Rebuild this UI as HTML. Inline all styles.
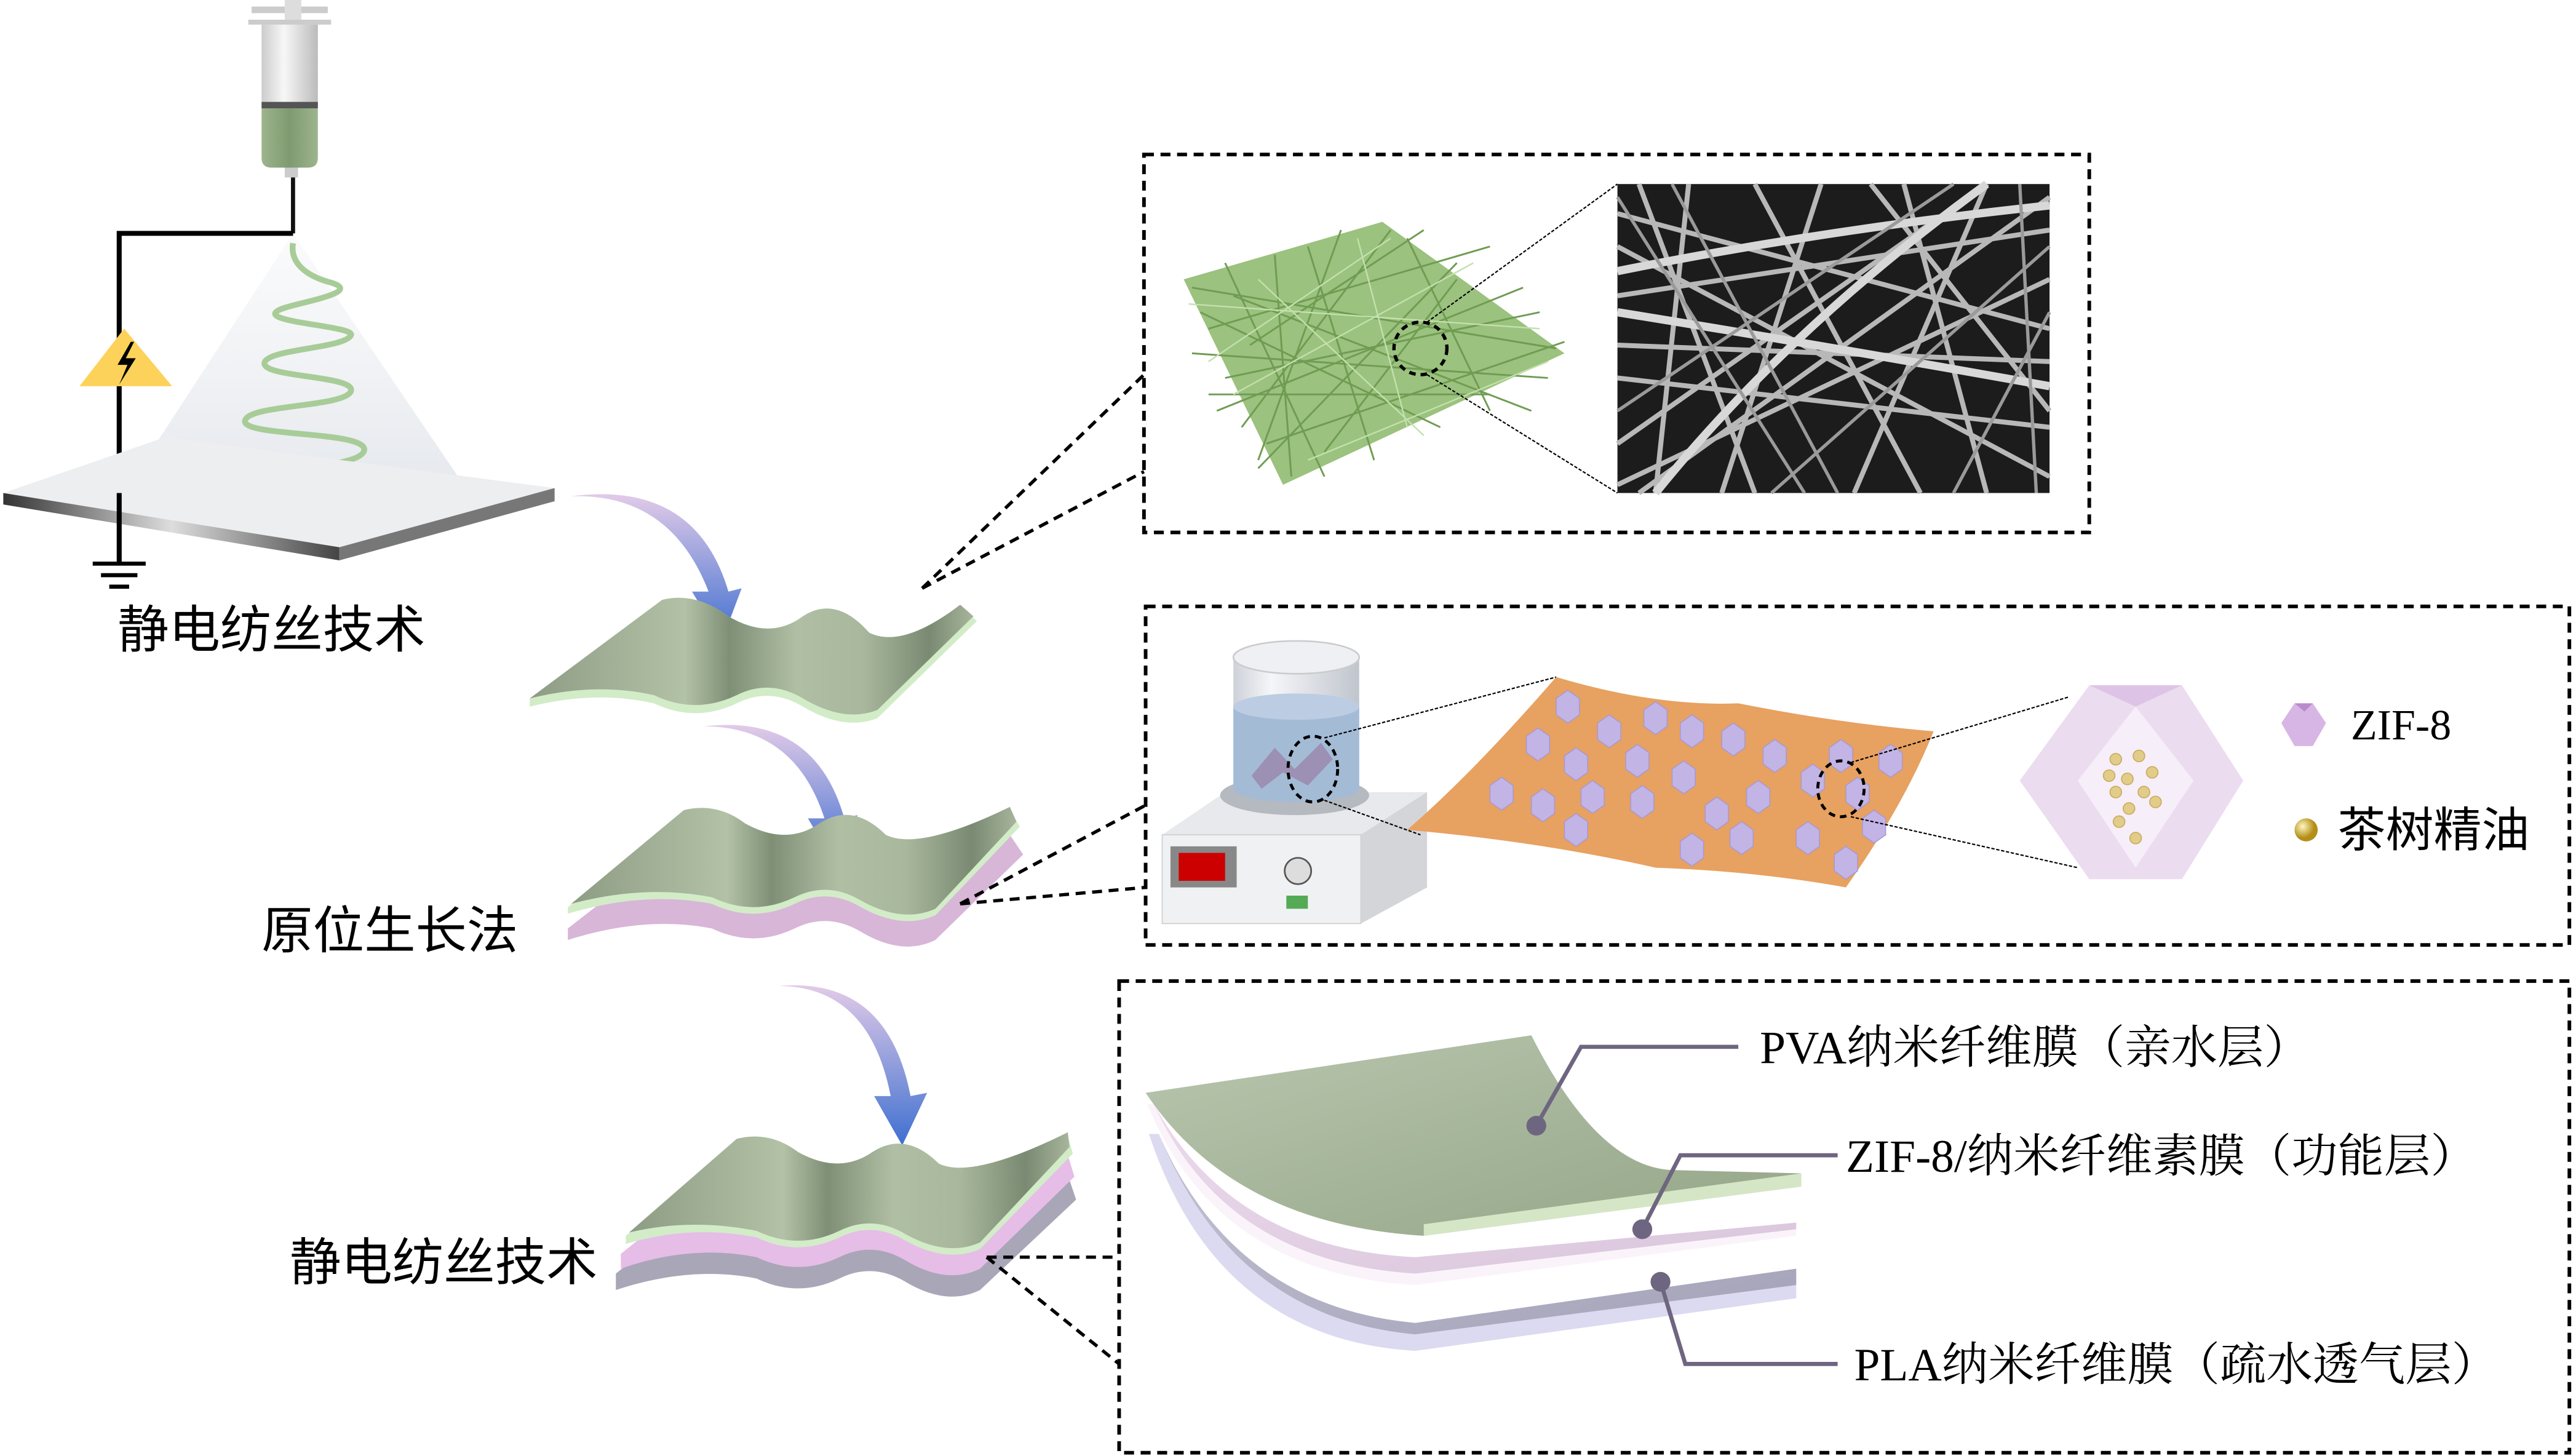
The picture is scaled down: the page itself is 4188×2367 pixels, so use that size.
<!DOCTYPE html>
<html><head><meta charset="utf-8"><style>
html,body{margin:0;padding:0;background:#fff;}
svg{display:block;}
text{font-family:"Liberation Serif","Noto Serif CJK SC","Noto Sans CJK SC",serif;}
.cn{font-family:"Liberation Sans","Noto Sans CJK SC",sans-serif;}
</style></head><body>
<svg width="4188" height="2367" viewBox="0 0 1556 886" preserveAspectRatio="none" xmlns="http://www.w3.org/2000/svg">
<defs>
<linearGradient id="arr" x1="0" y1="0" x2="0" y2="1"><stop offset="0" stop-color="#e2cbe8"/><stop offset="1" stop-color="#3f6fd0"/></linearGradient>
<linearGradient id="barrel" x1="0" x2="1"><stop offset="0" stop-color="#ccc"/><stop offset=".4" stop-color="#f7f7f7"/><stop offset="1" stop-color="#bbb"/></linearGradient>
<linearGradient id="liq" x1="0" x2="1"><stop offset="0" stop-color="#9db58c"/><stop offset=".5" stop-color="#7f9a70"/><stop offset="1" stop-color="#9db58c"/></linearGradient>
<linearGradient id="cone" x1="0" y1="0" x2="0" y2="1"><stop offset="0" stop-color="#eef0f3" stop-opacity=".3"/><stop offset="1" stop-color="#e6e9ee"/></linearGradient>
<linearGradient id="edge" x1="0" x2="1"><stop offset="0" stop-color="#333"/><stop offset=".5" stop-color="#ddd"/><stop offset="1" stop-color="#444"/></linearGradient>
<linearGradient id="gsheet" x1="0" x2="1"><stop offset="0" stop-color="#8d9c84"/><stop offset=".35" stop-color="#b3c2a6"/><stop offset=".45" stop-color="#7f8f76"/><stop offset=".6" stop-color="#b0bfa4"/><stop offset=".75" stop-color="#a9b89d"/><stop offset=".9" stop-color="#7a8a72"/><stop offset="1" stop-color="#a7b59c"/></linearGradient>
<linearGradient id="cg" x1="0" y1="0" x2="1" y2="1"><stop offset="0" stop-color="#b9c6ae"/><stop offset="1" stop-color="#93a587"/></linearGradient>
<linearGradient id="cp" x1="0" y1="0" x2="1" y2="1"><stop offset="0" stop-color="#ecd9ec"/><stop offset="1" stop-color="#d9c6dc"/></linearGradient>
<linearGradient id="cgr" x1="0" y1="0" x2="1" y2="1"><stop offset="0" stop-color="#c3c1d2"/><stop offset="1" stop-color="#a4a2b8"/></linearGradient>
<linearGradient id="beaker" x1="0" x2="1"><stop offset="0" stop-color="#c8ccd4"/><stop offset=".3" stop-color="#f4f5f8"/><stop offset="1" stop-color="#b9bec8"/></linearGradient>
<radialGradient id="oil" cx=".35" cy=".35"><stop offset="0" stop-color="#fff6c0"/><stop offset="1" stop-color="#b38f18"/></radialGradient>
</defs>

<polygon points="177,142 80,292 278,292" fill="url(#cone)"/>
<rect x="152" y="4" width="46" height="4" fill="#ccc"/>
<rect x="172" y="0" width="10" height="14" fill="#ddd"/>
<rect x="150" y="12" width="50" height="3" fill="#ccc"/>
<rect x="158" y="15" width="34" height="50" fill="url(#barrel)"/>
<rect x="158" y="62" width="34" height="4" fill="#555"/>
<path d="M158,66 H192 V96 Q192,102 186,102 H164 Q158,102 158,96 Z" fill="url(#liq)"/>
<rect x="172" y="102" width="8" height="6" fill="#ccc"/>
<line x1="177" y1="108" x2="177" y2="142" stroke="#111" stroke-width="2.5"/>
<polyline points="177,142 72,142 72,300" fill="none" stroke="#000" stroke-width="3"/>
<polygon points="75,200 48,235 104,235" fill="#fcd25a"/>
<path d="M79,208 L71,222 L77,222 L72,234 L82,218 L76,218 L81,208 Z" fill="#000"/>
<path d="M177,148 C175,160 185,168 200,172 C220,178 180,184 170,188 C150,196 215,198 212,204 C208,212 165,212 160,220 C155,230 215,228 212,238 C208,248 150,246 148,256 C146,266 222,262 220,274 C218,284 170,286 128,288" fill="none" stroke="#a8cc98" stroke-width="3.5"/>
<polygon points="2,300 100,266 335,297 205,333" fill="#eceef0"/>
<polygon points="2,300 205,333 205,341 2,307" fill="url(#edge)"/>
<polygon points="205,333 335,297 335,305 205,341" fill="#777"/>
<line x1="72" y1="300" x2="72" y2="343" stroke="#000" stroke-width="3"/>
<line x1="56" y1="343" x2="88" y2="343" stroke="#000" stroke-width="2.5"/>
<line x1="61" y1="350" x2="83" y2="350" stroke="#000" stroke-width="2.5"/>
<line x1="66" y1="357" x2="78" y2="357" stroke="#000" stroke-width="2.5"/>
<text x="71" y="394" font-size="31" class="cn" fill="#000">静电纺丝技术</text>

<path d="M345,302 Q405,300 428,360 L418,360 L436,390 L448,358 L440,360 Q420,292 345,302 Z" fill="url(#arr)"/>
<path d="M425,442 Q480,442 498,498 L488,498 L505,527 L518,496 L510,498 Q492,434 425,442 Z" fill="url(#arr)"/>
<path d="M470,600 Q525,600 538,667 L528,667 L545,697 L560,665 L550,667 Q536,594 470,600 Z" fill="url(#arr)"/>

<path d="M320,425 L400,365 Q420,360 440,375 Q465,390 485,375 Q505,362 525,385 Q545,395 580,368 L590,378 L530,437 Q510,445 485,430 Q465,418 445,428 Q420,440 395,428 Q360,420 320,430 Z" fill="#d2ecc8"/>
<path d="M320,425 L400,365 Q420,360 440,375 Q465,390 485,375 Q505,362 525,385 Q545,395 580,368 L588,375 L530,432 Q510,440 485,425 Q465,413 445,423 Q420,435 395,423 Q360,415 320,425 Z" fill="url(#gsheet)"/>

<path d="M343,565 L413,510 Q433,505 450,518 Q475,532 495,518 Q515,505 535,525 Q555,535 610,508 L618,520 L565,572 Q545,582 520,567 Q500,555 480,565 Q455,577 430,565 Q390,557 343,572 Z" fill="#d8b6d8"/>
<path d="M343,552 L413,495 Q433,490 450,503 Q475,517 495,503 Q515,490 535,510 Q555,520 610,493 L616,503 L565,557 Q545,566 520,552 Q500,540 480,550 Q455,562 430,550 Q390,542 343,556 Z" fill="#d2ecc8"/>
<path d="M345,550 L413,493 Q433,488 450,501 Q475,515 495,501 Q515,488 535,508 Q555,518 610,491 L614,500 L565,553 Q545,562 520,548 Q500,536 480,546 Q455,558 430,546 Q390,538 345,550 Z" fill="url(#gsheet)"/>
<text x="158" y="577" font-size="31" class="cn" fill="#000">原位生长法</text>

<path d="M372,775 L440,720 Q460,715 477,728 Q502,742 522,728 Q542,715 562,735 Q582,745 645,715 L650,730 L592,785 Q572,795 547,780 Q527,768 507,778 Q482,790 457,778 Q417,770 372,785 Z" fill="#a9a6b8"/>
<path d="M375,763 L443,708 Q463,703 480,716 Q505,730 525,716 Q545,703 565,723 Q585,733 645,703 L649,716 L592,772 Q572,782 547,767 Q527,755 507,765 Q482,777 457,765 Q417,757 375,772 Z" fill="#e6bde6"/>
<path d="M378,752 L445,695 Q465,690 482,703 Q507,717 527,703 Q547,690 567,710 Q587,720 645,691 L648,702 L592,760 Q572,769 547,755 Q527,743 507,753 Q482,765 457,753 Q417,745 378,757 Z" fill="#d2ecc8"/>
<path d="M380,750 L445,693 Q465,688 482,701 Q507,715 527,701 Q547,688 567,708 Q587,718 645,689 L646,698 L592,756 Q572,765 547,751 Q527,739 507,749 Q482,761 457,749 Q417,741 380,750 Z" fill="url(#gsheet)"/>
<text x="175" y="779" font-size="31" class="cn" fill="#000">静电纺丝技术</text>

<g stroke="#000" stroke-width="2" stroke-dasharray="6,4" fill="none">
<line x1="557" y1="358" x2="691" y2="228"/>
<line x1="557" y1="358" x2="691" y2="287"/>
<line x1="580" y1="550" x2="692" y2="490"/>
<line x1="580" y1="550" x2="692" y2="540"/>
<line x1="596" y1="765" x2="676" y2="765"/>
<line x1="596" y1="765" x2="676" y2="830"/>
</g>

<rect x="691" y="94" width="571" height="230" fill="none" stroke="#000" stroke-width="2.2" stroke-dasharray="6,4"/>
<polygon points="715,170 835,135 945,215 775,295" fill="#9bc27e"/>
<g stroke="#6f9c52" stroke-width="1.1">
<line x1="720" y1="175" x2="940" y2="212"/><line x1="730" y1="200" x2="900" y2="150"/><line x1="740" y1="230" x2="930" y2="190"/>
<line x1="750" y1="260" x2="840" y2="140"/><line x1="760" y1="285" x2="880" y2="160"/><line x1="725" y1="190" x2="870" y2="260"/>
<line x1="740" y1="160" x2="800" y2="290"/><line x1="790" y1="150" x2="830" y2="280"/><line x1="850" y1="145" x2="900" y2="250"/>
<line x1="720" y1="215" x2="935" y2="230"/><line x1="735" y1="250" x2="920" y2="175"/><line x1="765" y1="270" x2="945" y2="208"/>
<line x1="770" y1="155" x2="780" y2="290"/><line x1="810" y1="140" x2="760" y2="280"/><line x1="880" y1="170" x2="800" y2="275"/>
<line x1="730" y1="240" x2="900" y2="240"/><line x1="745" y1="180" x2="925" y2="250"/><line x1="755" y1="210" x2="860" y2="140"/>
</g>
<g stroke="#c4e0ad" stroke-width="0.9">
<line x1="718" y1="185" x2="930" y2="200"/><line x1="745" y1="240" x2="890" y2="160"/><line x1="760" y1="170" x2="860" y2="265"/>
<line x1="730" y1="220" x2="840" y2="145"/><line x1="790" y1="280" x2="935" y2="220"/><line x1="820" y1="145" x2="850" y2="260"/>
</g>
<ellipse cx="858" cy="212" rx="16" ry="16" fill="none" stroke="#000" stroke-width="2" stroke-dasharray="4,3"/>
<line x1="862" y1="196" x2="977" y2="112" stroke="#000" stroke-width="0.8" stroke-dasharray="2,1"/>
<line x1="862" y1="228" x2="977" y2="300" stroke="#000" stroke-width="0.8" stroke-dasharray="2,1"/>
<rect x="977" y="112" width="261" height="188" fill="#1c1c1c"/>
<g stroke="#b8b8b8" stroke-width="3" fill="none">
<line x1="977" y1="130" x2="1238" y2="200"/><line x1="990" y1="112" x2="1060" y2="300"/><line x1="1020" y1="112" x2="1000" y2="300"/>
<line x1="977" y1="180" x2="1238" y2="140"/><line x1="1100" y1="112" x2="1040" y2="300"/><line x1="977" y1="230" x2="1238" y2="260"/>
<line x1="1150" y1="112" x2="1200" y2="300"/><line x1="1200" y1="112" x2="1120" y2="300"/><line x1="977" y1="270" x2="1200" y2="112"/>
<line x1="977" y1="150" x2="1238" y2="290"/><line x1="1060" y1="112" x2="1160" y2="300"/><line x1="1238" y1="120" x2="990" y2="300"/>
<line x1="977" y1="210" x2="1238" y2="220"/><line x1="1130" y1="112" x2="1238" y2="250"/><line x1="977" y1="295" x2="1238" y2="170"/>
</g>
<g stroke="#d8d8d8" stroke-width="5" fill="none">
<path d="M977,165 Q1100,140 1238,125"/><path d="M977,190 Q1100,210 1238,235"/><path d="M1000,300 Q1080,200 1200,112"/>
</g>
<g stroke="#9a9a9a" stroke-width="2" fill="none">
<line x1="1010" y1="112" x2="1110" y2="300"/><line x1="977" y1="250" x2="1180" y2="112"/><line x1="1070" y1="300" x2="1238" y2="150"/>
<line x1="1180" y1="300" x2="1238" y2="190"/><line x1="977" y1="120" x2="1090" y2="300"/><line x1="1220" y1="112" x2="1230" y2="300"/>
</g>

<rect x="692" y="369" width="860" height="206" fill="none" stroke="#000" stroke-width="2.2" stroke-dasharray="6,4"/>
<polygon points="702,508 740,482 862,482 862,540 822,562 702,562" fill="#e8e9ec"/>
<rect x="702" y="508" width="120" height="54" fill="#f0f1f3" stroke="#ccc" stroke-width="0.6"/>
<polygon points="822,508 862,482 862,540 822,562" fill="#d3d5d9"/>
<rect x="707" y="515" width="40" height="25" fill="#888"/><rect x="712" y="519" width="28" height="17" fill="#c00"/>
<circle cx="784" cy="530" r="8" fill="#ddd" stroke="#555"/>
<rect x="777" y="545" width="13" height="8" fill="#5a5"/>
<ellipse cx="782" cy="484" rx="45" ry="12" fill="#b5b9c0"/>
<rect x="745" y="400" width="76" height="80" fill="url(#beaker)" opacity=".9"/>
<rect x="745" y="430" width="76" height="50" fill="#a4bbd6"/>
<ellipse cx="783" cy="430" rx="38" ry="8" fill="#bccde3"/>
<ellipse cx="783" cy="400" rx="38" ry="10" fill="#eef0f4" stroke="#ccc"/>
<ellipse cx="783" cy="480" rx="38" ry="8" fill="#a4bbd6"/>
<path d="M756,472 L770,455 L782,468 L798,452 L805,462 L790,478 L775,470 L762,480 Z" fill="#9c90b4"/>
<ellipse cx="793" cy="468" rx="15" ry="20" fill="none" stroke="#000" stroke-width="1.8" stroke-dasharray="4,3"/>
<line x1="800" y1="449" x2="940" y2="412" stroke="#000" stroke-width="0.8" stroke-dasharray="2,1"/>
<line x1="800" y1="487" x2="858" y2="508" stroke="#000" stroke-width="0.8" stroke-dasharray="2,1"/>
<path d="M940,412 Q1000,430 1050,428 Q1110,440 1168,445 Q1150,490 1115,540 Q1060,530 1000,528 Q930,512 850,505 Q890,470 940,412 Z" fill="#e7a160"/>
<g fill="#c3b4e6" stroke="#a89ad1" stroke-width="0.6">
<polygon points="940,425 947,420 954,425 954,435 947,440 940,435"/><polygon points="965,440 972,435 979,440 979,450 972,455 965,450"/>
<polygon points="993,432 1000,427 1007,432 1007,442 1000,447 993,442"/><polygon points="1015,440 1022,435 1029,440 1029,450 1022,455 1015,450"/>
<polygon points="1040,445 1047,440 1054,445 1054,455 1047,460 1040,455"/><polygon points="922,448 929,443 936,448 936,458 929,463 922,458"/>
<polygon points="945,460 952,455 959,460 959,470 952,475 945,470"/><polygon points="982,458 989,453 996,458 996,468 989,473 982,468"/>
<polygon points="1010,468 1017,463 1024,468 1024,478 1017,483 1010,478"/><polygon points="1065,455 1072,450 1079,455 1079,465 1072,470 1065,465"/>
<polygon points="1105,455 1112,450 1119,455 1119,465 1112,470 1105,465"/><polygon points="1135,458 1142,453 1149,458 1149,468 1142,473 1135,468"/>
<polygon points="900,478 907,473 914,478 914,488 907,493 900,488"/><polygon points="925,485 932,480 939,485 939,495 932,500 925,495"/>
<polygon points="955,480 962,475 969,480 969,490 962,495 955,490"/><polygon points="985,483 992,478 999,483 999,493 992,498 985,493"/>
<polygon points="1030,490 1037,485 1044,490 1044,500 1037,505 1030,500"/><polygon points="1055,480 1062,475 1069,480 1069,490 1062,495 1055,490"/>
<polygon points="1088,470 1095,465 1102,470 1102,480 1095,485 1088,480"/><polygon points="1115,478 1122,473 1129,478 1129,488 1122,493 1115,488"/>
<polygon points="945,500 952,495 959,500 959,510 952,515 945,510"/><polygon points="1015,512 1022,507 1029,512 1029,522 1022,527 1015,522"/>
<polygon points="1045,505 1052,500 1059,505 1059,515 1052,520 1045,515"/><polygon points="1085,505 1092,500 1099,505 1099,515 1092,520 1085,515"/>
<polygon points="1108,520 1115,515 1122,520 1122,530 1115,535 1108,530"/><polygon points="1125,498 1132,493 1139,498 1139,508 1132,513 1125,508"/>
</g>
<ellipse cx="1112" cy="480" rx="14" ry="17" fill="none" stroke="#000" stroke-width="1.8" stroke-dasharray="4,3"/>
<line x1="1118" y1="464" x2="1250" y2="424" stroke="#000" stroke-width="0.8" stroke-dasharray="2,1"/>
<line x1="1118" y1="497" x2="1255" y2="528" stroke="#000" stroke-width="0.8" stroke-dasharray="2,1"/>
<polygon points="1262,417 1318,417 1355,475 1318,535 1262,535 1220,475" fill="#ecdcf0"/>
<polygon points="1262,417 1318,417 1290,430" fill="#ddc4e6"/>
<polygon points="1290,430 1325,475 1290,528 1255,475" fill="#f6eef8"/>
<g fill="#e2cc8a" stroke="#c9ab5b" stroke-width="0.6">
<circle cx="1278" cy="462" r="3.5"/><circle cx="1292" cy="460" r="3.5"/><circle cx="1300" cy="470" r="3.5"/><circle cx="1285" cy="474" r="3.5"/>
<circle cx="1295" cy="482" r="3.5"/><circle cx="1278" cy="482" r="3.5"/><circle cx="1302" cy="488" r="3.5"/><circle cx="1286" cy="492" r="3.5"/>
<circle cx="1280" cy="500" r="3.5"/><circle cx="1290" cy="510" r="3.5"/><circle cx="1274" cy="472" r="3.5"/>
</g>
<polygon points="1386,428 1397,428 1405,440 1397,454 1386,454 1378,440" fill="#d7b6e6"/>
<polygon points="1386,428 1397,428 1392,433" fill="#b98bcb"/>
<text x="1420" y="450" font-size="26" fill="#000">ZIF-8</text>
<circle cx="1393" cy="505" r="7" fill="url(#oil)"/>
<text x="1412" y="515" font-size="29" class="cn" fill="#000">茶树精油</text>

<rect x="676" y="597" width="876" height="287" fill="none" stroke="#000" stroke-width="2.2" stroke-dasharray="6,4"/>
<!-- grey layer -->
<path d="M694,690 Q735,815 855,822 L1085,790 L1085,782 L855,812 Q745,802 700,690 Z" fill="#dcdaf0"/>
<path d="M700,690 Q745,795 855,805 L1085,772 L1085,782 L855,812 Q745,802 700,690 Z" fill="url(#cgr)"/>
<!-- pink layer -->
<path d="M693,672 Q735,775 855,782 L1085,752 L1085,746 L855,775 Q740,768 697,672 Z" fill="#faf4fa"/>
<path d="M697,672 Q745,760 855,765 L1085,744 L1085,748 L855,775 Q740,768 697,672 Z" fill="url(#cp)"/>
<!-- green layer -->
<path d="M692,665 L925,630 Q965,710 1010,712 L1088,714 L1088,722 L860,752 Q745,745 692,665 Z" fill="url(#cg)"/>
<path d="M860,745 L1088,714 L1088,722 L860,752 Z" fill="#d5e6c6"/>
<g stroke="#6e6680" stroke-width="2.5" fill="none">
<polyline points="928,685 955,637 1050,637"/>
<polyline points="992,748 1015,703 1110,703"/>
<polyline points="1003,780 1018,830 1110,830"/>
</g>
<g fill="#6e6680"><circle cx="928" cy="685" r="6"/><circle cx="992" cy="748" r="6"/><circle cx="1003" cy="780" r="6"/></g>
<text x="1063" y="647" font-size="28" fill="#000">PVA纳米纤维膜（亲水层）</text>
<text x="1115" y="713" font-size="28" fill="#000">ZIF-8/纳米纤维素膜（功能层）</text>
<text x="1120" y="840" font-size="28" fill="#000">PLA纳米纤维膜（疏水透气层）</text>
</svg>
</body></html>
